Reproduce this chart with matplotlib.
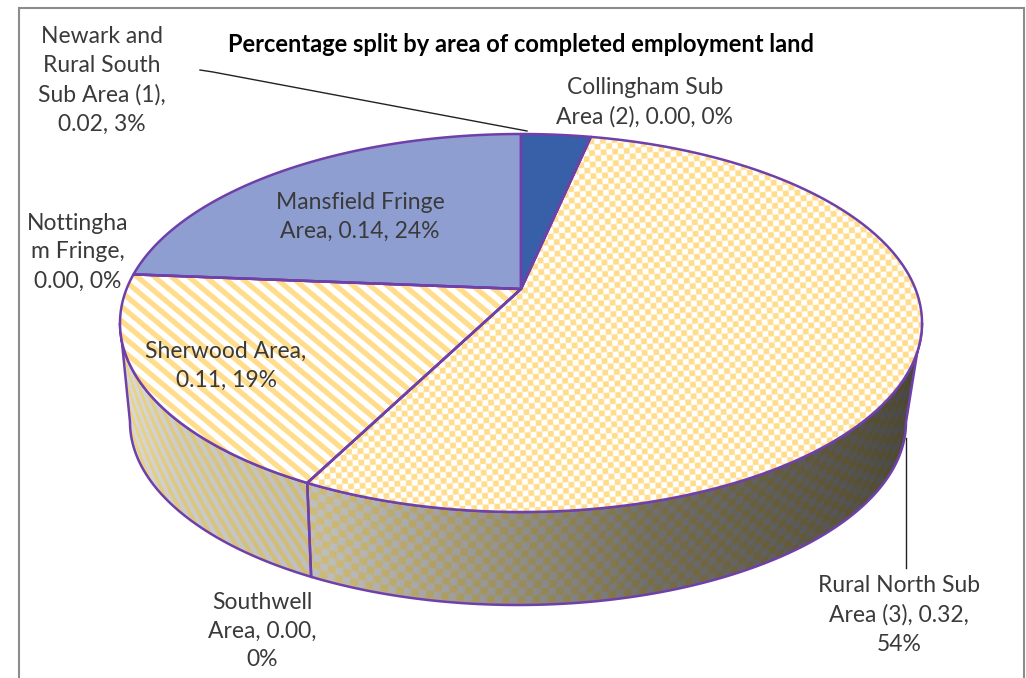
import numpy as np
import matplotlib
matplotlib.use('Agg')
import matplotlib.pyplot as plt
from matplotlib.patches import Polygon

plt.rcParams['font.family'] = ['Lato', 'DejaVu Sans']

# chart data
areas = ['Newark and Rural South Sub Area (1)', 'Collingham Sub Area (2)', 'Rural North Sub Area (3)',
         'Southwell Area', 'Sherwood Area', 'Nottingham Fringe', 'Mansfield Fringe Area']
values = [0.02, 0.00, 0.32, 0.00, 0.11, 0.00, 0.14]
labels = ['Newark and\nRural South\nSub Area (1),\n0.02, 3%',
          'Collingham Sub\nArea (2), 0.00, 0%',
          'Rural North Sub\nArea (3), 0.32,\n54%',
          'Southwell\nArea, 0.00,\n0%',
          'Sherwood Area,\n0.11, 19%',
          'Nottingha\nm Fringe,\n0.00, 0%',
          'Mansfield Fringe\nArea, 0.14, 24%']
title = 'Percentage split by area of completed employment land'
fills = ['solid_dark', 'check', 'check', 'stripe', 'stripe', 'stripe', 'solid_light']

# layout in pixels of the reference
W, H = 1026, 678
label_xy = [(102, 80), (645, 102), (899, 615), (262, 631), (226, 366), (78, 252), (360, 217)]
apex = (521, 289)
top_e = (521, 323, 401, 189)
bot_e = (518, 422, 388, 183)
PURPLE = '#7040AA'
YELLOW = np.array([255, 221, 140]) / 255
SIDE_YELLOW = np.array([1.08, 0.98, 0.62])
WHITE = np.array([1.0, 1.0, 1.0])


def ell_point(e, phi):
    return np.column_stack([e[0] + e[2] * np.cos(phi), e[1] + e[3] * np.sin(phi)])


def value_to_phase(theta):
    # ray from the off-centre apex, hit with the top ellipse
    cx, cy, a, b = top_e
    dx, dy = a * np.sin(theta), -b * np.cos(theta)
    ox, oy = (apex[0] - cx) / a, (apex[1] - cy) / b
    ux, uy = dx / a, dy / b
    qa = ux ** 2 + uy ** 2
    qb = 2 * (ox * ux + oy * uy)
    qc = ox ** 2 + oy ** 2 - 1
    t = (-qb + np.sqrt(qb ** 2 - 4 * qa * qc)) / (2 * qa)
    phi = np.arctan2(oy + t * uy, ox + t * ux)
    # keep it going clockwise from the top
    while phi < -np.pi / 2 - 1e-6:
        phi += 2 * np.pi
    return phi


def make_layers():
    y, x = np.mgrid[0:H, 0:W] + 0.5
    c = 5.8
    yt = y + x * 0.06
    chk = np.clip(0.5 + 2.0 * np.sin(np.pi * (x - y * 0.06) / c) * np.sin(np.pi * yt / c), 0, 1)
    ang = np.radians(40)
    stp = np.clip(0.42 + 1.6 * np.sin(2 * np.pi * (y * np.cos(ang) - x * np.sin(ang)) / 11.0), 0, 1)

    # side patterns follow the rim
    rim = top_e[1] + top_e[3] * np.sqrt(np.clip(1 - ((x - top_e[0]) / top_e[2]) ** 2, 0, 1))
    v = y - rim
    cs = 7.6
    chk_s = np.clip(0.5 + 2.0 * np.sin(np.pi * (x + v * 0.08) / cs) * np.sin(np.pi * v / cs), 0, 1)
    ang_s = np.radians(50)
    stp_s = np.clip(0.42 + 1.6 * np.sin(2 * np.pi * (v * np.cos(ang_s) - x * np.sin(ang_s)) / 10.5), 0, 1)

    shade = np.interp(x, [119, 180, 250, 330, 500, 650, 850, 922],
                      [0.86, 0.80, 0.77, 0.74, 0.58, 0.44, 0.33, 0.28])

    def mix(m, col):
        return m[..., None] * col + (1 - m[..., None]) * WHITE

    return {'check': mix(chk, YELLOW), 'stripe': mix(stp, YELLOW),
            'check_side': np.clip(mix(chk_s, SIDE_YELLOW) * shade[..., None], 0, 1),
            'stripe_side': np.clip(mix(stp_s, SIDE_YELLOW) * shade[..., None], 0, 1)}


def main():
    fig = plt.figure(figsize=(W / 100, H / 100), dpi=100)
    ax = fig.add_axes([0, 0, 1, 1])
    ax.set_xlim(0, W)
    ax.set_ylim(H, 0)
    ax.axis('off')

    # chart frame, open at the bottom
    ax.plot([18.5, 18.5, 1024, 1024], [H, 7.5, 7.5, H], color='#8C8C8C', lw=1.5, solid_joinstyle='miter')

    layers = make_layers()
    frac = np.cumsum([0] + values) / sum(values)
    phases = [-np.pi / 2]
    for f in frac[1:-1]:
        phases.append(value_to_phase(2 * np.pi * f))
    phases.append(3 * np.pi / 2)

    # side wall, only the front half is seen
    for i, kind in enumerate(fills):
        p0, p1 = max(phases[i], 0), min(phases[i + 1], np.pi)
        if p1 <= p0:
            continue
        ph = np.linspace(p0, p1, 200)
        pts = np.vstack([ell_point(top_e, ph), ell_point(bot_e, ph[::-1])])
        poly = Polygon(pts, closed=True, fc='none', ec=PURPLE, lw=1.8, zorder=3)
        ax.add_patch(poly)
        im = ax.imshow(layers[kind + '_side'], extent=(0, W, H, 0), zorder=2, interpolation='nearest', aspect='auto')
        im.set_clip_path(Polygon(pts, closed=True, transform=ax.transData))

    # top face
    for i, kind in enumerate(fills):
        ph = np.linspace(phases[i], phases[i + 1], 300)
        pts = np.vstack([[apex], ell_point(top_e, ph)])
        if kind == 'solid_dark':
            ax.add_patch(Polygon(pts, closed=True, fc='#3760A8', ec='none', zorder=4))
        elif kind == 'solid_light':
            ax.add_patch(Polygon(pts, closed=True, fc='#8E9ED0', ec='none', zorder=4))
        else:
            im = ax.imshow(layers[kind], extent=(0, W, H, 0), zorder=4, interpolation='nearest', aspect='auto')
            im.set_clip_path(Polygon(pts, closed=True, transform=ax.transData))
        ax.add_patch(Polygon(pts, closed=True, fc='none', ec=PURPLE, lw=1.8, zorder=5, joinstyle='round'))

    # leader lines
    ax.plot([200, 213, 527], [70, 72, 131], color='#222222', lw=1.0, zorder=6)
    ax.plot([906, 906], [438, 568], color='#222222', lw=1.0, zorder=6)

    for text, (tx, ty) in zip(labels, label_xy):
        ax.text(tx, ty, text, ha='center', va='center', fontsize=16.5, color='#3A3A3A',
                linespacing=1.47, zorder=7)
    ax.text(521, 45, title, ha='center', va='center', fontsize=17, fontweight='bold', color='black', zorder=7)

    ax.set_xlim(0, W)
    ax.set_ylim(H, 0)
    fig.savefig('out.png', dpi=100)


if __name__ == '__main__':
    main()
